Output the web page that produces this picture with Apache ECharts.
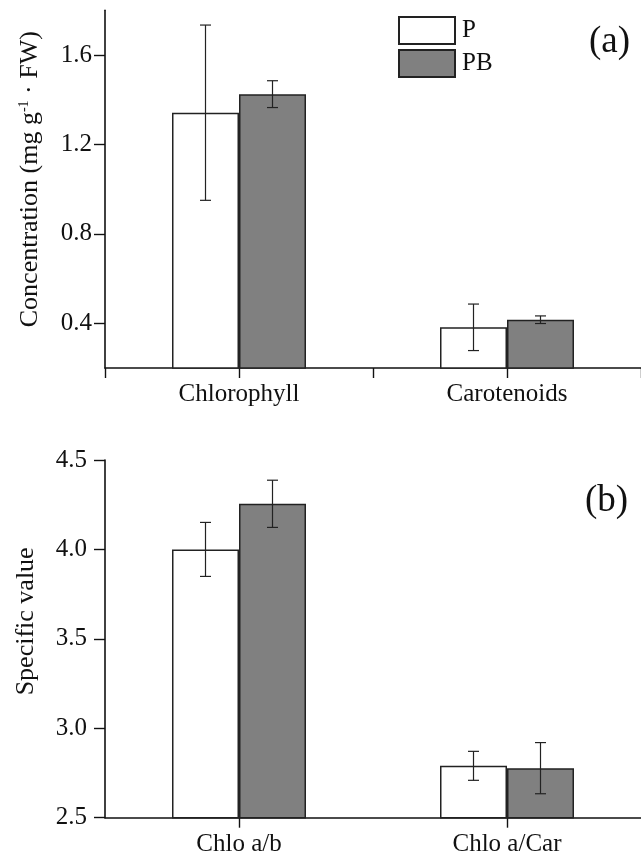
<!DOCTYPE html>
<html>
<head>
<meta charset="utf-8">
<script src="https://cdn.jsdelivr.net/npm/echarts@6/dist/echarts.min.js"></script>
<style>html,body{margin:0;padding:0;background:#fff;}#c{width:641px;height:860px;}</style>
</head>
<body>
<div id="c"></div>
<script>
// ---- data ----
var catsA = ['Chlorophyll', 'Carotenoids'];
var pA = [1.342, 0.382];
var pAErr = [0.392, 0.104];
var pbA = [1.425, 0.416];
var pbAErr = [0.06, 0.017];
var ticksA = [0.4, 0.8, 1.2, 1.6];

var catsB = ['Chlo a/b', 'Chlo a/Car'];
var pB = [4.00, 2.79];
var pBErr = [0.151, 0.081];
var pbB = [4.255, 2.777];
var pbBErr = [0.132, 0.143];
var ticksB = [2.5, 3.0, 3.5, 4.0, 4.5];

var FONT = "'Liberation Serif', 'Times New Roman', serif";
var BAR_FRAC = 0.25;

function errData(vals, errs) {
  return vals.map(function (v, i) { return [i, v, errs[i]]; });
}
function errRender(side) {
  return function (params, api) {
    var x = api.value(0), v = api.value(1), e = api.value(2);
    var band = api.size([1, 0])[0];
    var off = side * band * BAR_FRAC / 2;
    var hi = api.coord([x, v + e]);
    var lo = api.coord([x, v - e]);
    var cx = hi[0] + off;
    var cap = 5.5;
    var st = { stroke: '#222', lineWidth: 1.2 };
    return {
      type: 'group',
      children: [
        { type: 'line', shape: { x1: cx, y1: hi[1], x2: cx, y2: lo[1] }, style: st },
        { type: 'line', shape: { x1: cx - cap, y1: hi[1], x2: cx + cap, y2: hi[1] }, style: st },
        { type: 'line', shape: { x1: cx - cap, y1: lo[1], x2: cx + cap, y2: lo[1] }, style: st }
      ]
    };
  };
}

var axisLine = { show: true, lineStyle: { color: '#111', width: 1.6 } };
var tickStyle = { color: '#111', width: 1.4 };
var labelFont = { color: '#111', fontFamily: FONT, fontSize: 25 };

var option = {
  backgroundColor: '#fff',
  animation: false,
  title: [
    { text: '(a)', left: 584, top: 19, textStyle: { fontFamily: FONT, fontSize: 37, fontWeight: 'normal', color: '#111' } },
    { text: '(b)', left: 580, top: 478, textStyle: { fontFamily: FONT, fontSize: 37, fontWeight: 'normal', color: '#111' } }
  ],
  legend: {
    data: ['P', 'PB'],
    orient: 'vertical',
    left: 393,
    top: 11,
    itemWidth: 56,
    itemHeight: 27,
    itemGap: 4,
    icon: 'rect',
    textStyle: { fontFamily: FONT, fontSize: 25, color: '#111', padding: [0, 0, 0, 2] }
  },
  grid: [
    { left: 105, right: 0, top: 10.3, bottom: 492 },
    { left: 105, right: 0, top: 460, bottom: 42.3 }
  ],
  xAxis: [
    {
      type: 'category', gridIndex: 0, data: catsA,
      axisLine: axisLine,
      axisTick: { show: true, alignWithLabel: true, length: 10, lineStyle: tickStyle },
      axisLabel: Object.assign({ margin: 14 }, labelFont)
    },
    {
      type: 'category', gridIndex: 1, data: catsB,
      axisLine: axisLine,
      axisTick: { show: true, alignWithLabel: true, length: 10, lineStyle: tickStyle },
      axisLabel: Object.assign({ margin: 14 }, labelFont)
    },
    {
      type: 'category', gridIndex: 0, data: catsA, position: 'bottom',
      axisLine: { show: false },
      axisTick: { show: true, length: 10, lineStyle: tickStyle },
      axisLabel: { show: false }
    }
  ],
  yAxis: [
    {
      type: 'value', gridIndex: 0, min: 0.2, max: 1.8,
      name: 'Concentration (mg g{sup|-1} · FW)',
      nameLocation: 'middle', nameGap: 62,
      nameTextStyle: {
        fontFamily: FONT, fontSize: 26, color: '#111', padding: [0, 0, 0, 20],
        rich: { sup: { fontFamily: FONT, fontSize: 14, color: '#111', verticalAlign: 'top', padding: [0, 0, 10, 0] } }
      },
      axisLine: axisLine,
      axisTick: { show: true, length: 11, lineStyle: tickStyle, customValues: ticksA },
      axisLabel: Object.assign({ margin: 13, customValues: ticksA, formatter: function (v) { return v.toFixed(1); } }, labelFont),
      splitLine: { show: false }
    },
    {
      type: 'value', gridIndex: 1, min: 2.5, max: 4.5, interval: 0.5,
      name: 'Specific value',
      nameLocation: 'middle', nameGap: 66,
      nameTextStyle: { fontFamily: FONT, fontSize: 26, color: '#111', padding: [0, 0, 0, 35] },
      axisLine: axisLine,
      axisTick: { show: true, length: 11, lineStyle: tickStyle, customValues: ticksB },
      axisLabel: Object.assign({ margin: 18, customValues: ticksB, formatter: function (v) { return v.toFixed(1); } }, labelFont),
      splitLine: { show: false }
    }
  ],
  series: [
    {
      name: 'P', type: 'bar', xAxisIndex: 0, yAxisIndex: 0, data: pA,
      barWidth: '25%', barGap: '0%',
      itemStyle: { color: '#ffffff', borderColor: '#222', borderWidth: 1.5 }
    },
    {
      name: 'PB', type: 'bar', xAxisIndex: 0, yAxisIndex: 0, data: pbA,
      barWidth: '25%', barGap: '0%',
      itemStyle: { color: '#808080', borderColor: '#222', borderWidth: 1.5 }
    },
    {
      name: 'P', type: 'bar', xAxisIndex: 1, yAxisIndex: 1, data: pB,
      barWidth: '25%', barGap: '0%',
      itemStyle: { color: '#ffffff', borderColor: '#222', borderWidth: 1.5 }
    },
    {
      name: 'PB', type: 'bar', xAxisIndex: 1, yAxisIndex: 1, data: pbB,
      barWidth: '25%', barGap: '0%',
      itemStyle: { color: '#808080', borderColor: '#222', borderWidth: 1.5 }
    },
    { type: 'custom', xAxisIndex: 0, yAxisIndex: 0, renderItem: errRender(-1), data: errData(pA, pAErr), z: 5, clip: false },
    { type: 'custom', xAxisIndex: 0, yAxisIndex: 0, renderItem: errRender(1), data: errData(pbA, pbAErr), z: 5, clip: false },
    { type: 'custom', xAxisIndex: 1, yAxisIndex: 1, renderItem: errRender(-1), data: errData(pB, pBErr), z: 5, clip: false },
    { type: 'custom', xAxisIndex: 1, yAxisIndex: 1, renderItem: errRender(1), data: errData(pbB, pbBErr), z: 5, clip: false }
  ]
};

var chart = echarts.init(document.getElementById('c'), null, { renderer: 'canvas' });
chart.setOption(option);
</script>
</body>
</html>
